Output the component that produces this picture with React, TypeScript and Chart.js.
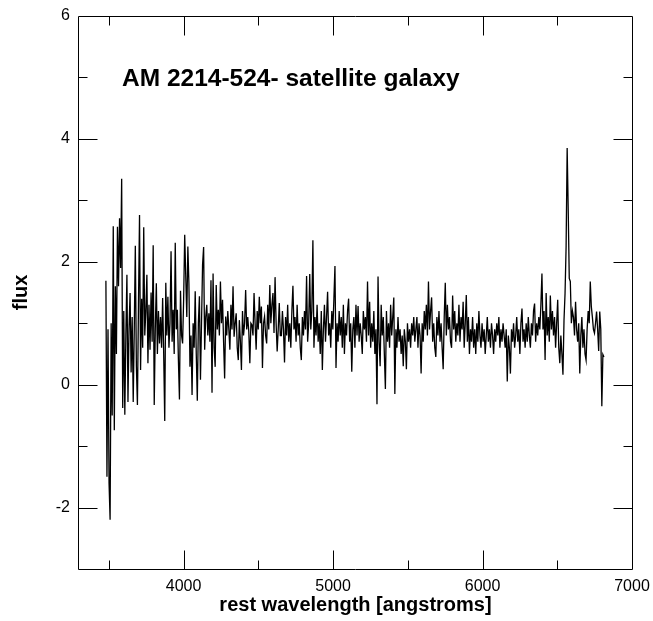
import React, { useEffect, useRef } from "react";
import { Chart, registerables } from "chart.js";

Chart.register(...registerables);

// Spectrum sampling (rest wavelength, angstroms)
const WAVE_START = 3480;
const WAVE_STEP = 7.03;

// Flux values, in consecutive wavelength blocks
const flux3480 = [
  1.69, -1.5, 0.9, -1.6, -2.2, 1.0, -0.5, 2.58, -0.74, 1.6,
  0.5, 2.57, 1.6, 2.71, 1.9, 3.35, -0.38, 1.2, -0.49, 0.8,
  1.79, -0.28, 0.9, 1.49, 0.2, 1.1, -0.28, 0.9, 2.26, 0.3,
  -0.33, 1.3, 2.76, 0.24, 1.4, 0.6, 2.56, 0.8, 1.2, 1.79,
  0.35, 1.3, 0.57, 1.5, 0.7, 2.27, -0.33, 0.9, 1.65, 0.5,
  1.2, 0.67, 1.1, 0.6, 1.41, 0.5, -0.59, 1.66, 0.8, 1.43,
  0.6, 1.0, 2.17, 0.7, 1.22, 0.5, 2.31, 0.9, 1.22, 0.4,
  -0.24, 1.53, 0.8, 0.67, 1.4, 2.44, 1.76, 1.1, 2.25, 1.65,
  0.29, 0.8, -0.17, 1.0, 0.6, 1.52, 0.5, -0.26, 1.0, 1.44,
  0.08, 1.0, 1.95, 2.24, 0.57, 1.1, 1.3, 0.8, 1.16, 0.7,
];
const flux4180 = [
  1.7, -0.13, 1.81, 0.6, 0.29, 1.62, 0.9, 1.22, 0.8, 1.68,
  1.0, 1.38, 0.7, 0.1, 1.11, 0.8, 1.2, 0.9, 0.57, 1.3,
  0.9, 1.6, 0.78, 1.0, 1.16, 0.6, 0.4, 1.05, 0.7, 0.24,
  1.2, 0.8, 1.0, 1.54, 0.9, 1.1, 0.86, 0.35, 1.0, 0.97,
  0.8, 1.49, 1.0, 0.57, 1.2, 0.9, 1.43, 1.0, 1.27, 0.27,
  1.0, 1.11, 0.8, 0.67, 1.3, 0.9, 1.62, 1.0, 1.3, 1.49,
  0.84, 1.75, 1.0, 0.54, 0.9, 1.33, 0.8, 0.8, 1.2, 0.9,
  0.36, 1.1, 0.8, 1.3, 0.7, 1.0, 0.6, 1.2, 1.61, 0.9,
  1.1, 0.7, 1.3, 0.8, 1.0, 0.6, 0.4, 1.1, 0.8, 1.2,
  0.9, 1.77, 0.7, 1.0, 1.8, 0.9, 1.2, 2.35, 0.6, 1.1,
];
const flux4880 = [
  0.8, 1.3, 0.7, 1.0, 0.5, 1.2, 0.24, 0.9, 1.3, 0.7,
  1.1, 1.51, 0.8, 1.0, 0.6, 1.2, 0.9, 1.4, 1.93, 0.27,
  1.0, 0.7, 1.2, 0.8, 1.1, 0.6, 1.3, 0.5, 1.0, 0.8,
  1.2, 1.4, 0.7, 1.0, 0.21, 0.9, 1.1, 0.6, 1.3, 0.8,
  1.28, 0.7, 1.0, 0.8, 0.5, 1.2, 0.9, 1.1, 0.7, 1.68,
  0.8, 1.35, 0.6, 1.0, 0.7, 1.2, 0.5, 0.9, -0.32, 1.76,
  0.7, 0.3, 1.3, 0.8, 1.1, 0.5, -0.07, 1.2, 0.7, 1.0,
  0.6, 1.3, 0.8, 1.1, 1.42, -0.15, 0.9, 0.6, 1.1, 0.7,
  0.9, 0.5, 0.8, 0.3, 0.9, 0.7, 0.25, 1.0, 0.7, 0.9,
  0.6, 1.0, 0.8, 1.1, 0.7, 0.9, 1.1, 0.6, 1.0, 0.8,
];
const flux5580 = [
  0.18, 1.0, 0.7, 1.2, 0.9, 1.3, 0.8, 1.68, 0.9, 1.2,
  1.42, 0.7, 1.0, 0.6, 0.45, 1.1, 0.8, 1.2, 0.7, 1.0,
  0.6, 0.25, 1.1, 1.66, 0.8, 1.3, 0.9, 1.1, 0.7, 0.6,
  1.45, 0.9, 1.2, 0.7, 1.0, 0.8, 1.3, 0.7, 1.1, 0.9,
  1.35, 0.6, 1.0, 1.46, 0.7, 1.1, 0.5, 0.9, 0.7, 1.1,
  0.6, 0.9, 0.5, 1.0, 0.7, 1.2, 0.8, 0.6, 1.0, 0.7,
  0.9, 0.5, 0.8, 1.1, 0.7, 0.9, 0.6, 1.0, 0.8, 0.5,
  0.9, 0.7, 1.0, 0.8, 1.1, 0.6, 0.9, 0.7, 1.0, 0.8,
  0.6, 0.9, 0.05, 0.8, 0.6, 0.18, 0.9, 0.7, 1.0, 0.6,
  0.8, 1.1, 0.7, 0.9, 0.5, 1.0, 1.24, 0.7, 0.9, 0.6,
];
const flux6280 = [
  1.0, 0.7, 1.1, 0.8, 0.6, 1.0, 0.8, 1.2, 1.32, 0.7,
  1.0, 0.8, 1.1, 0.9, 1.3, 1.81, 0.9, 1.2, 0.4, 1.49,
  0.8, 1.1, 0.7, 1.45, 0.9, 1.2, 0.8, 1.1, 0.6, 1.0,
  1.38, 0.6, 0.35, 0.8, 0.5, 0.16, 1.05, 1.49, 2.25, 3.85,
  2.85, 1.73, 1.68, 1.0, 1.2, 1.1, 0.8, 1.35, 0.9, 0.7,
  1.0, 0.18, 0.8, 1.1, 0.6, 0.9, 0.5, 0.4, 0.9, 1.2,
  1.0, 1.68, 1.27, 1.1, 0.9, 0.84, 1.0, 1.19, 0.9, 0.55,
  1.19, 0.9, -0.35, 0.49, 0.45,
];

// Axis definitions
const X_MIN = 3300;
const X_MAX = 7000;
const Y_MIN = -3;
const Y_MAX = 6;
const X_MAJOR = [4000, 5000, 6000, 7000];
const X_MINOR = [3500, 4500, 5500, 6500];
const Y_MAJOR = [-2, 0, 2, 4, 6];
const Y_MINOR = [-1, 1, 3, 5];

const TITLE_TEXT = "AM 2214-524- satellite galaxy";
const X_TITLE = "rest wavelength [angstroms]";
const Y_TITLE = "flux";

const FONT = "'Liberation Sans', Arial, Helvetica, sans-serif";

const innerTicksPlugin = {
  id: "innerTicks",
  afterDraw(chart: any) {
    const { ctx, chartArea, scales } = chart;
    const { left, right, top, bottom } = chartArea;
    const xs = scales.x;
    const ys = scales.y;
    ctx.save();
    ctx.strokeStyle = "#000";
    ctx.lineWidth = 1;
    ctx.beginPath();
    ctx.rect(Math.round(left) - 0.5, Math.round(top) + 0.5, Math.round(right) - Math.round(left) + 1, Math.round(bottom) - Math.round(top));
    ctx.stroke();
    const MAJ = 19;
    const MIN = 9;
    ctx.beginPath();
    const xt = (v: number, len: number) => {
      const px = Math.round(xs.getPixelForValue(v)) + 0.5;
      ctx.moveTo(px, bottom + 0.5);
      ctx.lineTo(px, bottom + 0.5 - len);
      ctx.moveTo(px, top + 0.5);
      ctx.lineTo(px, top + 0.5 + len);
    };
    const yt = (v: number, len: number) => {
      const py = Math.round(ys.getPixelForValue(v)) + 0.5;
      ctx.moveTo(left - 0.5, py);
      ctx.lineTo(left - 0.5 + len, py);
      ctx.moveTo(right + 0.5, py);
      ctx.lineTo(right + 0.5 - len, py);
    };
    X_MAJOR.forEach((v) => v < X_MAX && xt(v, MAJ));
    X_MINOR.forEach((v) => xt(v, MIN));
    Y_MAJOR.forEach((v) => v < Y_MAX && yt(v, MAJ));
    Y_MINOR.forEach((v) => yt(v, MIN));
    ctx.stroke();

    // in-plot title
    ctx.fillStyle = "#000";
    ctx.font = `bold 24.5px ${FONT}`;
    ctx.textAlign = "left";
    ctx.textBaseline = "alphabetic";
    ctx.fillText(TITLE_TEXT, left + 43, top + 70);
    ctx.restore();
  },
};

const zeroPad = (s: any) => {
  s.paddingLeft = 0;
  s.paddingRight = 0;
  s.paddingTop = 0;
  s.paddingBottom = 0;
};

export default function App() {
  const ref = useRef<HTMLCanvasElement | null>(null);

  useEffect(() => {
    document.body.style.margin = "0";
    const fluxAll = [...flux3480, ...flux4180, ...flux4880, ...flux5580, ...flux6280];
    const points = fluxAll.map((f, i) => ({ x: WAVE_START + i * WAVE_STEP, y: f }));

    const chart = new Chart(ref.current as HTMLCanvasElement, {
      type: "line",
      data: {
        datasets: [
          {
            data: points,
            borderColor: "#000",
            borderWidth: 1.3,
            pointRadius: 0,
            tension: 0,
            fill: false,
          },
        ],
      },
      options: {
        animation: false,
        responsive: false,
        parsing: false as any,
        normalized: true,
        layout: { padding: { top: 16, right: 21, left: 0, bottom: 0 } },
        plugins: {
          legend: { display: false },
          tooltip: { enabled: false },
        },
        scales: {
          x: {
            type: "linear",
            min: X_MIN,
            max: X_MAX,
            afterBuildTicks: (s: any) => {
              s.ticks = X_MAJOR.map((v) => ({ value: v }));
            },
            afterFit: (s: any) => {
              s.height = 52;
              zeroPad(s);
            },
            grid: { display: false, drawTicks: false },
            border: { display: false },
            ticks: {
              color: "#000",
              padding: 8,
              maxRotation: 0,
              autoSkip: false,
              font: { family: FONT, size: 16 },
              callback: (v: any) => String(v),
            },
            title: {
              display: true,
              text: X_TITLE,
              color: "#000",
              font: { family: FONT, size: 20, weight: "bold" },
              padding: { top: 0, bottom: 4 },
            },
          },
          y: {
            type: "linear",
            min: Y_MIN,
            max: Y_MAX,
            afterBuildTicks: (s: any) => {
              s.ticks = Y_MAJOR.map((v) => ({ value: v }));
            },
            afterFit: (s: any) => {
              s.width = 79;
              zeroPad(s);
            },
            grid: { display: false, drawTicks: false },
            border: { display: false },
            ticks: {
              color: "#000",
              padding: 9,
              autoSkip: false,
              font: { family: FONT, size: 16 },
              callback: (v: any) => String(v),
            },
            title: {
              display: true,
              text: Y_TITLE,
              color: "#000",
              font: { family: FONT, size: 20, weight: "bold" },
              padding: { top: 9, bottom: 0 },
            },
          },
        },
      },
      plugins: [innerTicksPlugin],
    });
    return () => chart.destroy();
  }, []);

  return (
    <div style={{ position: "absolute", left: 0, top: 0, width: 653, height: 621, background: "#fff" }}>
      <canvas ref={ref} width={653} height={621} style={{ display: "block" }} />
    </div>
  );
}
